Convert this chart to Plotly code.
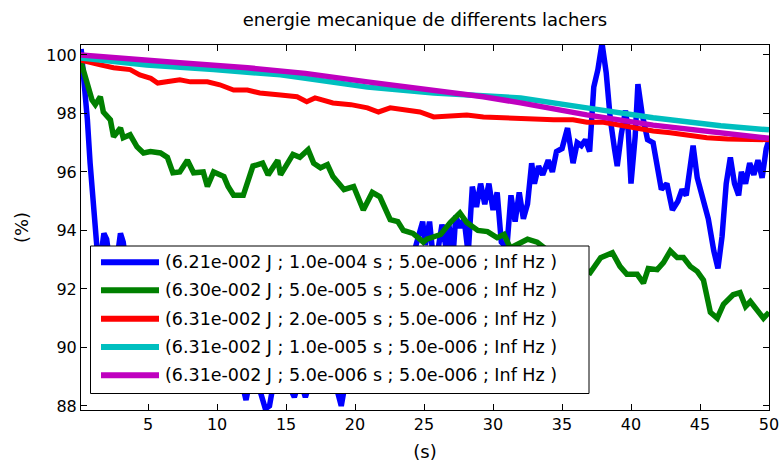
import plotly.graph_objects as go

# ---------------- data ----------------
blue_x = [0.15, 0.4, 0.6, 0.8, 1.0, 1.2, 1.4, 1.6, 1.8, 2.0, 2.2, 2.5, 2.8, 3.0, 3.2, 3.5,
          4.0, 5.0, 6.0, 7.0, 8.0, 9.0, 10.0, 11.0, 11.9, 12.1, 12.4, 13.0, 13.5, 13.8, 14.1,
          15.0, 15.6, 16.0, 16.4, 16.8, 17.5, 18.5, 19.0, 19.3, 20.0, 21.0, 22.0, 23.0, 24.0,
          24.9, 25.1, 25.4, 25.7, 26.0, 26.3, 26.6, 26.8, 27.1, 27.3, 27.6, 27.9, 28.2, 28.5,
          28.8, 29.1, 29.4, 29.7, 30.0, 30.3, 30.6, 31.0, 31.3, 31.6, 31.9, 32.2, 32.5, 32.8,
          33.0, 33.3, 33.6, 34.0, 34.3, 34.6, 35.0, 35.4, 35.8, 36.1, 36.4, 36.7, 37.0, 37.3,
          37.6, 37.9, 38.2, 38.5, 38.8, 39.0, 39.3, 39.6, 39.8, 40.0, 40.3, 40.5, 40.8, 41.2,
          41.6, 41.9, 42.2, 42.6, 43.0, 43.4, 43.7, 44.0, 44.3, 44.5, 44.8, 45.2, 45.6, 46.0,
          46.3, 46.6, 46.9, 47.2, 47.5, 47.8, 48.0, 48.3, 48.6, 48.9, 49.2, 49.5, 49.8, 50.0]
blue_y = [100.2, 99.0, 97.8, 96.3, 95.0, 93.8, 92.8, 93.2, 93.9, 93.7, 93.0, 92.6, 93.2, 93.9, 93.6, 92.5,
          92.0, 91.4, 90.9, 90.5, 90.0, 89.6, 89.2, 88.9, 88.6, 88.2, 88.9, 88.7, 87.9, 88.0, 88.8,
          88.9, 88.3, 88.9, 88.3, 88.9, 89.2, 88.9, 88.0, 88.8, 89.5, 90.3, 91.0, 91.8, 92.8,
          94.3, 93.5, 94.3, 92.9, 93.3, 94.2, 93.4, 94.2, 93.1, 94.5, 94.1, 94.4, 93.2, 95.5,
          94.8, 95.6, 94.9, 95.6, 94.7, 95.3, 93.6, 93.4, 95.2, 94.3, 95.3, 94.4, 94.9, 96.3,
          95.6, 96.2, 95.9, 96.4, 96.0, 96.7, 96.8, 97.5, 96.3, 97.0, 96.9, 97.1, 96.7, 98.9,
          99.5, 100.4, 99.4, 97.8, 96.8, 96.2, 97.3, 98.1, 97.4, 95.6, 97.2, 99.0, 98.0, 97.1,
          97.0, 96.3, 95.4, 95.6, 94.7, 95.0, 95.4, 95.2, 96.2, 96.9, 95.8, 95.1, 94.4, 93.3,
          92.7, 93.8, 95.6, 96.5, 95.6, 95.2, 96.0, 95.6, 96.3, 95.9, 96.4, 95.8, 96.8, 97.1]

green_x = [0.1, 0.58, 0.94, 1.18, 1.54, 1.76, 2.27, 2.5, 3.0, 3.2, 3.7, 4.2, 4.67, 5.17, 5.9,
           6.4, 6.8, 7.3, 7.85, 8.3, 9.0, 9.3, 9.75, 10.5, 10.8, 11.2, 11.9, 12.6, 13.3, 13.7,
           14.4, 14.6, 15.5, 16.0, 16.6, 17.0, 17.5, 18.0, 18.4, 19.2, 19.9, 20.6, 21.25, 21.8,
           22.55, 23.1, 23.5, 24.2, 24.95, 25.2, 26.2, 26.9, 27.6, 28.1, 28.9, 29.6, 30.3, 30.8,
           31.25, 32.5, 33.2, 34.0, 35.0, 36.0, 37.05, 37.8, 38.65, 39.2, 39.7, 40.45, 40.9,
           41.25, 41.9, 42.35, 42.85, 43.35, 43.8, 44.3, 44.8, 45.25, 45.75, 46.25, 46.7, 47.4,
           47.9, 48.3, 48.65, 49.1, 49.6, 50.0]
green_y = [99.83, 99.04, 98.46, 98.3, 98.57, 98.05, 97.78, 97.2, 97.5, 97.17, 97.27, 96.86, 96.65, 96.7, 96.65,
           96.5, 95.97, 96.0, 96.4, 95.97, 96.0, 95.5, 96.0, 95.84, 95.5, 95.2, 95.2, 96.2, 96.3, 95.9,
           96.4, 95.9, 96.6, 96.5, 96.76, 96.3, 96.14, 96.25, 95.84, 95.4, 95.5, 94.7, 95.3, 95.15,
           94.37, 94.3, 94.0, 93.9, 93.6, 93.7, 93.86, 94.27, 94.6, 94.27, 94.0, 93.96, 93.75, 93.86,
           93.4, 93.7, 93.6, 93.3, 93.1, 92.9, 92.56, 93.07, 93.24, 92.77, 92.5, 92.5, 92.2,
           92.7, 92.66, 92.9, 93.3, 93.07, 93.07, 92.77, 92.6, 92.3, 91.2, 91.0, 91.47, 91.8,
           91.87, 91.4, 91.57, 91.3, 91.0, 91.2]

red_x = [0.1, 0.82, 1.54, 2.5, 3.7, 4.4, 5.2, 5.7, 6.4, 7.3, 8.07, 8.6, 9.3, 10.2, 11.2, 12.2,
         13.1, 14.6, 15.8, 16.5, 17.1, 18.4, 19.7, 20.9, 21.7, 22.55, 23.8, 24.7, 25.7, 26.9,
         28.1, 29.3, 30.5, 32.0, 34.4, 35.8, 36.8, 38.0, 39.2, 40.45, 41.6, 42.85, 44.1, 45.5,
         47.0, 48.4, 50.0]
red_y = [99.83, 99.73, 99.66, 99.56, 99.5, 99.32, 99.2, 99.04, 99.08, 99.15, 99.08, 99.08, 99.08, 98.98, 98.8, 98.8,
         98.7, 98.63, 98.57, 98.4, 98.53, 98.36, 98.3, 98.19, 98.05, 98.19, 98.12, 98.05, 97.88, 97.92,
         97.95, 97.88, 97.85, 97.85, 97.78, 97.78, 97.7, 97.7, 97.6, 97.5, 97.4, 97.34, 97.24, 97.17,
         97.13, 97.1, 97.1]

cyan_x = [0.1, 2.5, 4.9, 9.75, 14.6, 16.8, 20.9, 25.7, 28.9, 32.0, 36.8, 41.6, 46.5, 50.0]
cyan_y = [99.9, 99.76, 99.66, 99.5, 99.32, 99.18, 98.9, 98.7, 98.63, 98.53, 98.19, 97.85, 97.58, 97.44]

magenta_x = [0.1, 2.5, 7.3, 12.2, 16.4, 20.9, 25.7, 29.3, 32.0, 36.8, 41.6, 46.5, 50.0]
magenta_y = [100.0, 99.9, 99.73, 99.56, 99.37, 99.08, 98.8, 98.57, 98.36, 97.95, 97.6, 97.34, 97.15]

labels = [
    "(6.21e-002 J ; 1.0e-004 s ; 5.0e-006 ; Inf Hz )",
    "(6.30e-002 J ; 5.0e-005 s ; 5.0e-006 ; Inf Hz )",
    "(6.31e-002 J ; 2.0e-005 s ; 5.0e-006 ; Inf Hz )",
    "(6.31e-002 J ; 1.0e-005 s ; 5.0e-006 ; Inf Hz )",
    "(6.31e-002 J ; 5.0e-006 s ; 5.0e-006 ; Inf Hz )",
]
colors = ["#0000FF", "#008000", "#FF0000", "#00BFBF", "#BF00BF"]
x_ticks = [5, 10, 15, 20, 25, 30, 35, 40, 45, 50]
y_ticks = [88, 90, 92, 94, 96, 98, 100]

title = "energie mecanique de differents lachers"
x_title = "(s)"
y_title = "(%)"

# ---------------- figure ----------------
W, H = 780, 466
ML, MR, MT, MB = 81, 11, 45, 56
PW, PH = W - ML - MR, H - MT - MB
FONT = "DejaVu Sans"

series = [(blue_x, blue_y), (green_x, green_y), (red_x, red_y), (cyan_x, cyan_y), (magenta_x, magenta_y)]
widths = [5.5, 5.5, 5, 5.5, 5.5]
fig = go.Figure()
for (xs, ys), c, lab, w in zip(series, colors, labels, widths):
    fig.add_trace(go.Scatter(x=xs, y=ys, mode="lines", name=lab,
                             line=dict(color=c, width=w), showlegend=False,
                             hoverinfo="skip"))

def px2paper(px, py):
    return (px - ML) / PW, (H - MB - py) / PH

# custom legend box (MATLAB style)
x0, y0 = px2paper(90.5, 393.5)
x1, y1 = px2paper(589, 246)
shapes = [dict(type="rect", xref="paper", yref="paper", x0=x0, y0=y0, x1=x1, y1=y1,
               fillcolor="white", line=dict(color="black", width=1), layer="above")]
annotations = []
row_y = [262.3, 290.3, 318.7, 347.0, 375.3]
for ry, c, lab in zip(row_y, colors, labels):
    lx0, ly = px2paper(101, ry)
    lx1, _ = px2paper(159, ry)
    shapes.append(dict(type="line", xref="paper", yref="paper", x0=lx0, x1=lx1, y0=ly, y1=ly,
                       line=dict(color=c, width=6), layer="above"))
    tx, _ = px2paper(163, ry)
    annotations.append(dict(xref="paper", yref="paper", x=tx, y=ly, text=lab, showarrow=False,
                            xanchor="left", yanchor="middle",
                            font=dict(family=FONT, size=17.5, color="black")))

axis_common = dict(showline=True, linecolor="black", linewidth=1, mirror="ticks",
                   ticks="inside", ticklen=6, tickcolor="black", tickwidth=1,
                   showgrid=False, zeroline=False, automargin=False,
                   tickfont=dict(family=FONT, size=16, color="black"))

fig.update_layout(
    width=W, height=H,
    margin=dict(l=ML, r=MR, t=MT, b=MB, pad=0, autoexpand=False),
    paper_bgcolor="white", plot_bgcolor="white",
    title=dict(text=title, x=(ML + PW / 2) / W, xanchor="center", y=1 - 20 / H, yanchor="middle",
               font=dict(family=FONT, size=18, color="black")),
    xaxis=dict(range=[0.14, 50], tickvals=x_ticks, ticktext=[str(v) for v in x_ticks],
               title=dict(text=x_title, standoff=12, font=dict(family=FONT, size=18, color="black")),
               **axis_common),
    yaxis=dict(range=[87.86, 100.34], tickvals=y_ticks, ticktext=[str(v) for v in y_ticks],
               title=dict(text=y_title, standoff=12, font=dict(family=FONT, size=18, color="black")),
               **axis_common),
    shapes=shapes,
    annotations=annotations,
    showlegend=False,
)

fig.write_html("out.html", config={"displayModeBar": False},
               post_script="document.body.style.margin='0';")
